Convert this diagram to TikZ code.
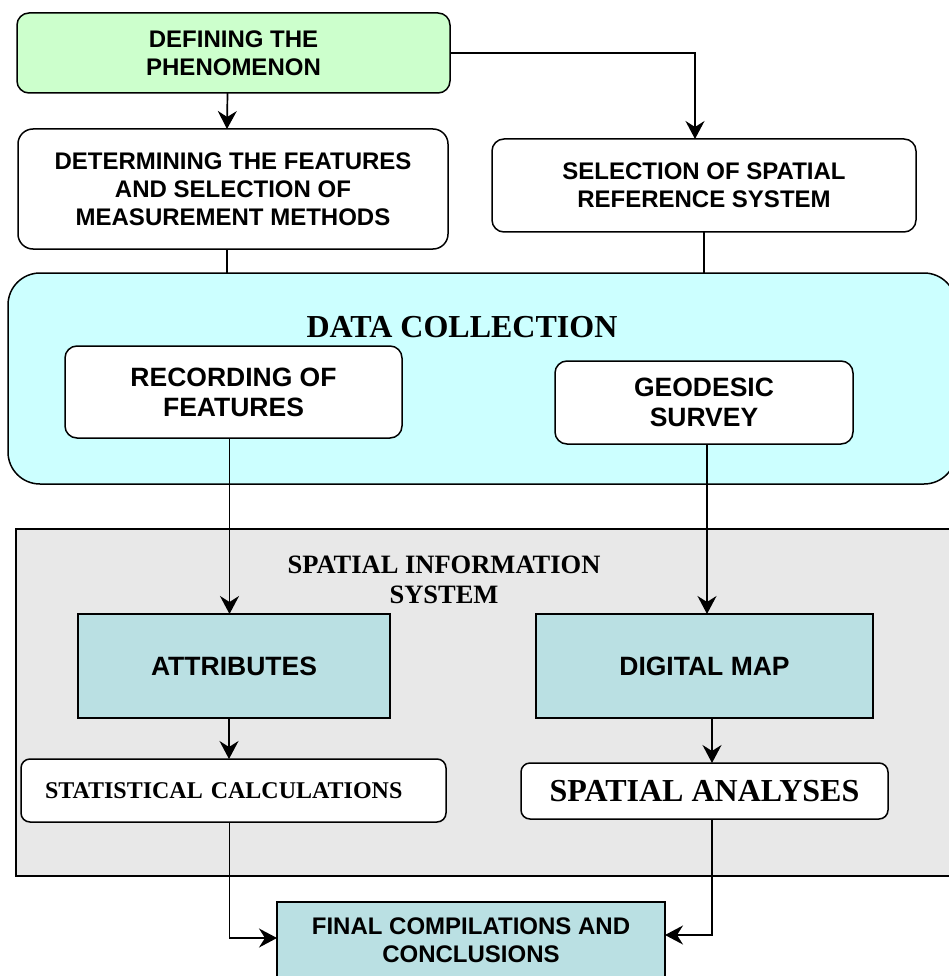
\documentclass[tikz,border=0pt]{standalone}
\usepackage{fontspec}
\setmainfont{Liberation Serif}
\newfontfamily\sansfnt{Liberation Sans}
\usetikzlibrary{arrows.meta}
\definecolor{cgreen}{HTML}{CCFFCC}
\definecolor{ccyan}{HTML}{CCFFFF}
\definecolor{cgray}{HTML}{E8E8E8}
\definecolor{cteal}{HTML}{BAE0E3}
\tikzset{
  box/.style={draw=black, line width=1.5pt, inner sep=0pt, outer sep=0pt, align=center},
  rbox/.style={box, rounded corners=12pt, fill=white},
  sbox/.style={box, fill=cteal},
  sanstext/.style={font=\sansfnt\bfseries\fontsize{24}{28}\selectfont},
  sansbig/.style={font=\sansfnt\bfseries\fontsize{26.5}{30}\selectfont},
  seriftext/.style={font=\bfseries\fontsize{26.5}{30}\selectfont, align=center},
  conn/.style={draw=black, line width=1.7pt},
  arr/.style={conn, -{Stealth[length=18pt,width=19pt,inset=6pt]}}
}
\begin{document}
\begin{tikzpicture}[x=1pt,y=-1pt]
\useasboundingbox (0,0) rectangle (949,976);
\clip (0,0) rectangle (949,976);
\fill[white] (0,0) rectangle (949,976);

% containers
\node[box, rounded corners=32pt, fill=ccyan, minimum width=948pt, minimum height=211pt] (dc) at (482,378.5) {};
\node[font=\bfseries\fontsize{32}{36}\selectfont] (dctitle) at (462,327) {DATA COLLECTION};
\node[box, fill=cgray, minimum width=944pt, minimum height=347pt] (sis) at (488,702.5) {};
\node[seriftext] (sistitle) at (444,580) {SPATIAL INFORMATION\\SYSTEM};

% top boxes
\node[rbox, fill=cgreen, sanstext, minimum width=433pt, minimum height=80pt] (def) at (233.5,53) {DEFINING THE\\PHENOMENON};
\node[rbox, rounded corners=15pt, sanstext, minimum width=430pt, minimum height=120pt] (det) at (233,189) {DETERMINING THE FEATURES\\AND SELECTION OF\\MEASUREMENT METHODS};
\node[rbox, sanstext, minimum width=424pt, minimum height=93pt] (sel) at (704,185.5) {SELECTION OF SPATIAL\\REFERENCE SYSTEM};

% data collection boxes
\node[rbox, sansbig, minimum width=337pt, minimum height=92pt] (rec) at (233.5,392) {RECORDING OF\\FEATURES};
\node[rbox, sansbig, minimum width=298pt, minimum height=83pt] (geo) at (704,402.5) {GEODESIC\\SURVEY};

% SIS boxes
\node[sbox, sansbig, minimum width=312pt, minimum height=104pt] (att) at (234,666) {ATTRIBUTES};
\node[sbox, sansbig, minimum width=337pt, minimum height=104pt] (dm) at (704.5,666) {DIGITAL MAP};
\node[rbox, rounded corners=9pt, font=\bfseries\fontsize{24}{28}\selectfont, minimum width=425pt, minimum height=63pt, text width=377pt, align=left] (stat) at (233.5,790.5) {STATISTICAL CALCULATIONS};
\node[rbox, rounded corners=9pt, font=\bfseries\fontsize{32}{36}\selectfont, minimum width=367pt, minimum height=56pt] (sa) at (704.5,791) {SPATIAL ANALYSES};

% final
\node[sbox, sanstext, minimum width=388pt, minimum height=76pt] (fin) at (471,940) {FINAL COMPILATIONS AND\\CONCLUSIONS};

% connectors
\draw[arr] ([xshift=-6pt]def.south) -- ([xshift=-6pt]det.north);
\draw[arr] (def.east) -| ([xshift=-9pt]sel.north);
\draw[conn] ([xshift=-6pt]det.south) -- ([xshift=-6pt]det.south |- dc.north);
\draw[conn] (sel.south) -- (sel.south |- dc.north);
\draw[arr] ([xshift=-4pt]rec.south) -- ([xshift=-4pt]rec.south |- att.north);
\draw[arr] ([xshift=3pt]geo.south) -- ([xshift=3pt]geo.south |- dm.north);
\draw[arr] ([xshift=-5pt]att.south) -- ([xshift=-5pt]att.south |- stat.north);
\draw[arr] ([xshift=7.5pt]dm.south) -- ([xshift=7.5pt]dm.south |- sa.north);
\draw[arr] ([xshift=-4pt]stat.south) |- ([yshift=2pt]fin.west);
\draw[arr] ([xshift=7.5pt]sa.south) |- ([yshift=5pt]fin.east);
\end{tikzpicture}
\end{document}
